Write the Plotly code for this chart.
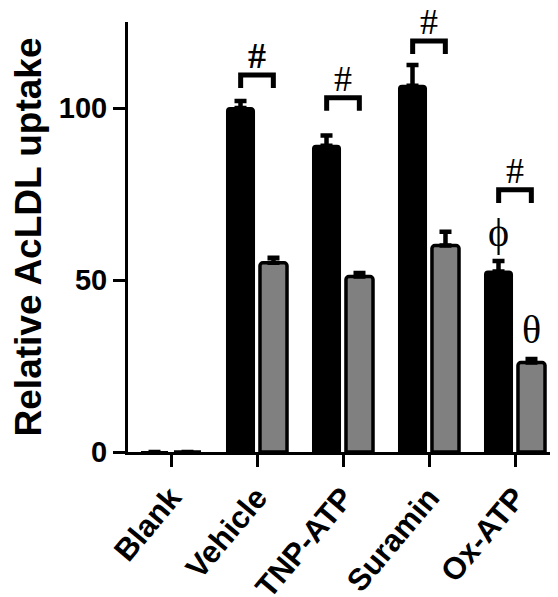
import numpy as np
import plotly.graph_objects as go

categories = ["Blank", "Vehicle", "TNP-ATP", "Suramin", "Ox-ATP"]
black_vals = [0, 100, 89, 106.5, 52.5]
black_err = [0, 2, 3, 6, 3]
gray_vals = [0, 55, 51, 60, 26]
gray_err = [0, 1.5, 1, 4, 1]

# significance brackets (# between black and gray bars)
bracket_idx = [1, 2, 3, 4]
bracket_top = [109.6, 103, 119.5, 76.2]
bracket_labels = ["<b>#</b>", "#", "#", "#"]
# extra symbols
phi_pos = (4, 63.7)
theta_pos = (4, 35.5)

x = np.arange(len(categories))
OFF = 0.19

fig = go.Figure()
fig.add_trace(go.Bar(
    x=x, y=black_vals, offsetgroup="a",
    marker=dict(color="black", line=dict(color="black", width=2), cornerradius=3),
    error_y=dict(type="data", symmetric=False, array=black_err,
                 arrayminus=[0]*5, color="black", thickness=4.5, width=6),
))
fig.add_trace(go.Bar(
    x=x, y=gray_vals, offsetgroup="b",
    marker=dict(color="#808080", line=dict(color="black", width=3.5), cornerradius=3),
    error_y=dict(type="data", symmetric=False, array=gray_err,
                 arrayminus=[0]*5, color="black", thickness=4.5, width=6),
))

for i, yt, lab in zip(bracket_idx, bracket_top, bracket_labels):
    x1, x2 = i - OFF, i + OFF
    yb = yt - 3.8
    fig.add_shape(type="path", xref="x", yref="y",
                  path=f"M {x1},{yb} L {x1},{yt} L {x2},{yt} L {x2},{yb}",
                  line=dict(color="black", width=5))
    fig.add_annotation(x=i, y=yt, yshift=19, text=lab, showarrow=False,
                       yanchor="middle", xanchor="center",
                       font=dict(family="Liberation Serif", size=36, color="black"))

fig.add_annotation(x=phi_pos[0] - OFF, y=phi_pos[1], text="\u03d5", showarrow=False,
                   font=dict(family="Liberation Serif", size=40, color="black"))
fig.add_annotation(x=theta_pos[0] + OFF, y=theta_pos[1], text="\u03b8", showarrow=False,
                   font=dict(family="Liberation Serif", size=40, color="black"))

fig.update_layout(
    width=550, height=589,
    margin=dict(l=120, r=0, t=14, b=145, autoexpand=False),
    plot_bgcolor="white", paper_bgcolor="white",
    barmode="group", bargap=0.233, bargroupgap=0.18,
    showlegend=False,
    font=dict(family="Liberation Sans", color="black"),
)
fig.update_xaxes(
    range=[-0.5, 4.5], tickmode="array", tickvals=x, ticktext=categories,
    tickangle=-50, tickfont=dict(size=31, weight="bold"),
    showline=True, linecolor="black", linewidth=3,
    ticks="outside", ticklen=12, tickwidth=3, tickcolor="black",
    showgrid=False, zeroline=False, automargin=False,
)
fig.update_yaxes(
    range=[0, 125], tickvals=[0, 50, 100],
    tickfont=dict(size=29, weight="bold"),
    showline=True, linecolor="black", linewidth=3,
    ticks="outside", ticklen=12, tickwidth=3, tickcolor="black",
    showgrid=False, zeroline=False, automargin=False,
    title=dict(text="Relative AcLDL uptake", font=dict(size=37, weight="bold"), standoff=17),
)

fig.write_html("out.html")
